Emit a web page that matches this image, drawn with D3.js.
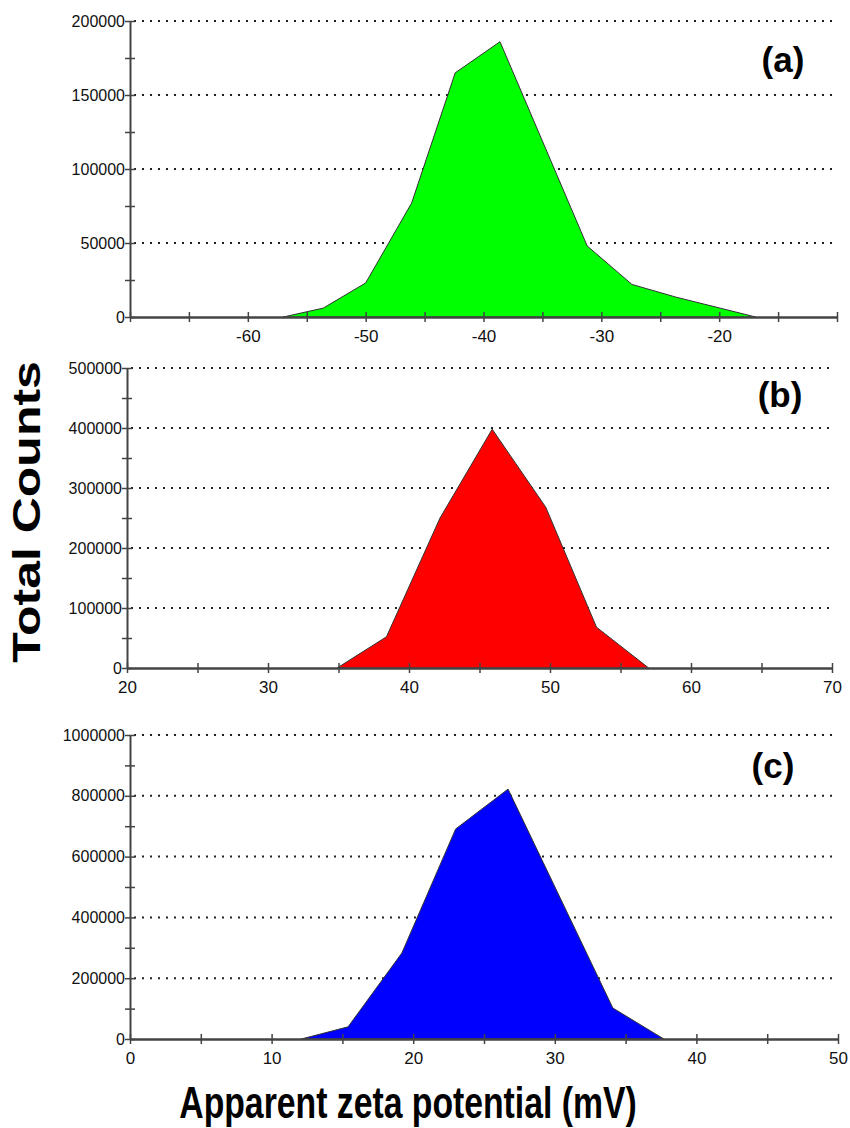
<!DOCTYPE html>
<html>
<head>
<meta charset="utf-8">
<script src="https://cdn.jsdelivr.net/npm/d3@7"></script>
<style>
    body { margin: 0; background: #fff; }
    svg { display: block; font-family: "Liberation Sans", Arial, sans-serif; }
    .axis path, .axis line { stroke: #444; }
    .axis text { fill: #111; font-size: 16px; }
</style>
</head>
<body>
<svg id="chart" width="850" height="1128"></svg>
<script>
// (a) negative zeta distribution
let zetaA = [-57, -53.6, -50, -46.1, -42.4, -38.6, -31.2, -27.4, -23.7, -16.9];
let countsA = [0, 6000, 23000, 77000, 165000, 186000, 48000, 22000, 13500, 0];
let xTicksA = [-70, -65, -60, -55, -50, -45, -40, -35, -30, -25, -20, -15, -10];
let xLabelsA = [-60, -50, -40, -30, -20];
let yTicksA = [0, 50000, 100000, 150000, 200000];

// (b)
let zetaB = [34.9, 38.4, 42.2, 45.9, 49.7, 53.3, 57.0];
let countsB = [0, 52000, 250000, 398000, 268000, 68000, 0];
let xTicksB = [20, 25, 30, 35, 40, 45, 50, 55, 60, 65, 70];
let xLabelsB = [20, 30, 40, 50, 60, 70];
let yTicksB = [0, 100000, 200000, 300000, 400000, 500000];

// (c)
let zetaC = [12.1, 15.4, 19.2, 23.0, 26.7, 34.1, 37.7];
let countsC = [0, 40000, 283000, 691000, 822000, 102000, 0];
let xTicksC = [0, 5, 10, 15, 20, 25, 30, 35, 40, 45, 50];
let xLabelsC = [0, 10, 20, 30, 40, 50];
let yTicksC = [0, 200000, 400000, 600000, 800000, 1000000];

let panels = [
    {tag: "(a)", x: zetaA, y: countsA, xTicks: xTicksA, xLabels: xLabelsA, yTicks: yTicksA,
     color: "#00ff00", left: 130, right: 837, top: 21, bottom: 317, labelX: 783, labelY: 72},
    {tag: "(b)", x: zetaB, y: countsB, xTicks: xTicksB, xLabels: xLabelsB, yTicks: yTicksB,
     color: "#ff0000", left: 127, right: 832, top: 368, bottom: 668, labelX: 780, labelY: 407},
    {tag: "(c)", x: zetaC, y: countsC, xTicks: xTicksC, xLabels: xLabelsC, yTicks: yTicksC,
     color: "#0000ff", left: 130, right: 838, top: 735, bottom: 1039, labelX: 773, labelY: 778},
];

let svg = d3.select("#chart");

panels.forEach(p => {
    let x_scale = d3.scaleLinear()
        .domain(d3.extent(p.xTicks))
        .range([p.left, p.right]);
    let yMax = d3.max(p.yTicks);
    let y_scale = d3.scaleLinear()
        .domain([0, yMax])
        .range([p.bottom, p.top]);

    let g = svg.append("g");

    // dotted grid lines
    g.selectAll(".grid")
        .data(p.yTicks.filter(v => v > 0))
        .enter().append("line")
        .attr("x1", p.left + 4)
        .attr("x2", p.right)
        .attr("y1", d => y_scale(d))
        .attr("y2", d => y_scale(d))
        .attr("stroke", "#222")
        .attr("stroke-width", 2)
        .attr("stroke-dasharray", "2,6");

    // filled distribution
    let pts = p.x.map((v, i) => [v, p.y[i]]);
    let area = d3.area()
        .x(d => x_scale(d[0]))
        .y0(y_scale(0))
        .y1(d => y_scale(d[1]));
    g.append("path")
        .datum(pts)
        .attr("d", area)
        .attr("fill", p.color)
        .attr("stroke", "#333")
        .attr("stroke-width", 1);

    // y axis, minor ticks between labelled ones
    let step = p.yTicks[1] / 2;
    let yAll = d3.range(0, yMax + 1, step);
    let yAxis = g.append("g")
        .attr("class", "axis axis-y")
        .attr("transform", `translate(${p.left},0)`)
        .call(d3.axisLeft(y_scale)
            .tickValues(yAll)
            .tickSizeOuter(0)
            .tickFormat(d => p.yTicks.includes(d) ? String(d) : ""));
    yAxis.select(".domain").attr("stroke-width", 2).attr("stroke", "#555");
    yAxis.selectAll(".tick line").attr("x1", -5).attr("x2", 5).attr("stroke-width", 1.5);
    yAxis.selectAll(".tick text").attr("x", -5);

    // x axis
    let xAxis = g.append("g")
        .attr("class", "axis axis-x")
        .attr("transform", `translate(0,${p.bottom})`)
        .call(d3.axisBottom(x_scale)
            .tickValues(p.xTicks)
            .tickSizeOuter(0)
            .tickFormat(d => p.xLabels.includes(d) ? String(d) : ""));
    xAxis.select(".domain").attr("stroke-width", 2.5).attr("stroke", "#222");
    xAxis.selectAll(".tick line").attr("y1", -5).attr("y2", 5).attr("stroke-width", 1.5);
    xAxis.selectAll(".tick text").attr("y", 13).style("font-size", "17px");

    // panel tag
    g.append("text")
        .attr("x", p.labelX)
        .attr("y", p.labelY)
        .attr("text-anchor", "middle")
        .attr("font-size", "35px")
        .attr("font-weight", "bold")
        .text(p.tag);
});

// y title
svg.append("text")
    .attr("transform", "translate(40,512) rotate(-90) scale(1,0.76)")
    .attr("text-anchor", "middle")
    .attr("font-size", "50px")
    .attr("font-weight", "bold")
    .text("Total Counts");

// x title
svg.append("text")
    .attr("transform", "translate(408,1118) scale(0.75,1)")
    .attr("text-anchor", "middle")
    .attr("font-size", "45px")
    .attr("font-weight", "bold")
    .text("Apparent zeta potential (mV)");
</script>
</body>
</html>
